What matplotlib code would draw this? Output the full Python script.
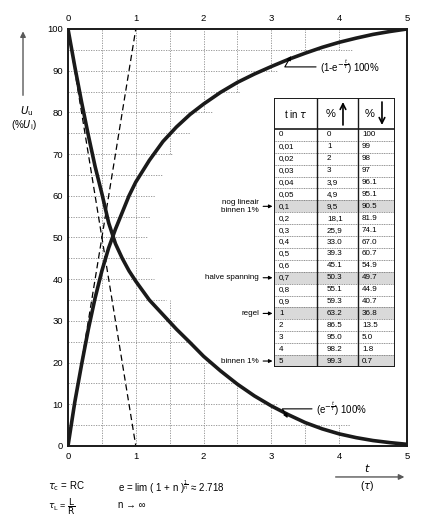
import numpy as np
import matplotlib.pyplot as plt

plt.rcParams['font.family'] = ['Liberation Sans', 'DejaVu Sans']

# curves: t in tau, U in % of U_i
t_up = [0, 0.1, 0.2, 0.3, 0.4, 0.5, 0.6, 0.7, 0.8, 0.9, 1.0, 1.2, 1.4, 1.6, 1.8, 2.0,
        2.25, 2.5, 2.75, 3.0, 3.25, 3.5, 3.75, 4.0, 4.25, 4.5, 4.75, 5.0]
u_up = [0, 10.5, 19.5, 28, 35.5, 42, 47.5, 52, 56, 60, 63.3, 68.5, 73, 76.5, 79.5, 82,
        84.8, 87.2, 89.2, 91, 92.7, 94.2, 95.6, 96.8, 97.8, 98.7, 99.4, 100]
t_down = [0, 0.1, 0.2, 0.3, 0.4, 0.5, 0.6, 0.7, 0.8, 0.9, 1.0, 1.2, 1.4, 1.6, 1.8, 2.0,
          2.25, 2.5, 2.75, 3.0, 3.25, 3.5, 3.75, 4.0, 4.25, 4.5, 4.75, 5.0]
u_down = [100, 91, 82.5, 74.5, 67, 60.5, 53.5, 48.5, 45, 42, 39.5, 35, 31.5, 28, 24.8, 21.5,
          18, 14.8, 12, 9.6, 7.5, 5.6, 4.1, 2.9, 2, 1.3, 0.8, 0.4]

# tangent lines at t = 0
tan_t = [0, 1]
tan_up = [0, 100]
tan_down = [100, 0]

# partial grid: horizontal lines stop just past the curves
hgrid_u = [5, 10, 15, 20, 25, 30, 35, 40, 45, 50, 55, 60, 65, 70, 75, 80, 85, 90, 95]
hgrid_end = [4.16, 3.08, 2.5, 2.1, 1.85, 1.6, 1.45, 1.27, 1.22, 1.18, 1.21, 1.28, 1.38, 1.55, 1.8, 2.12, 2.54, 3.1, 4.19]
vgrid_t = [0.5, 1.0, 1.5, 2.0, 2.5, 3.0, 3.5, 4.0]
vgrid_low = [100, 100, 35, 20, 15, 10, 5, 5]
vgrid_high = [0, 0, 70, 80, 85, 90, 95, 95]

xticks = [0, 1, 2, 3, 4, 5]
yticks = [0, 10, 20, 30, 40, 50, 60, 70, 80, 90, 100]

# table values
tab_t = ["0", "0,01", "0,02", "0,03", "0,04", "0,05", "0,1", "0,2", "0,3", "0,4",
         "0,5", "0,6", "0,7", "0,8", "0,9", "1", "2", "3", "4", "5"]
tab_up = ["0", "1", "2", "3", "3,9", "4,9", "9,5", "18,1", "25,9", "33.0",
          "39.3", "45.1", "50.3", "55.1", "59.3", "63.2", "86.5", "95.0", "98.2", "99.3"]
tab_down = ["100", "99", "98", "97", "96.1", "95.1", "90.5", "81.9", "74.1", "67.0",
            "60.7", "54.9", "49.7", "44.9", "40.7", "36.8", "13.5", "5.0", "1.8", "0.7"]
tab_notes = {"0,1": "nog lineair\nbinnen 1%", "0,7": "halve spanning", "1": "regel", "5": "binnen 1%"}

fig = plt.figure(figsize=(4.45, 5.19), dpi=100)
ax = fig.add_axes([0.1528, 0.1407, 0.7618, 0.8035])

grid_style = dict(color='0.55', lw=0.6, ls=(0, (1.5, 1.5)), zorder=1)
for u, end in zip(hgrid_u, hgrid_end):
    ax.plot([0, end], [u, u], **grid_style)
for t, lo, hi in zip(vgrid_t, vgrid_low, vgrid_high):
    ax.plot([t, t], [0, lo], **grid_style)
    if hi > 0:
        ax.plot([t, t], [hi, 100], **grid_style)

ax.plot(tan_t, tan_up, color='k', lw=0.9, ls=(0, (5, 3)), zorder=2)
ax.plot(tan_t, tan_down, color='k', lw=0.9, ls=(0, (5, 3)), zorder=2)
ax.plot(t_up, u_up, color='0.1', lw=2.6, solid_joinstyle='round', zorder=3)
ax.plot(t_down, u_down, color='0.1', lw=2.6, solid_joinstyle='round', zorder=3)

ax.set_xlim(0, 5)
ax.set_ylim(0, 100)
ax.set_xticks(xticks)
ax.set_yticks(yticks)
ax.tick_params(top=True, labeltop=True, length=0, labelsize=6.8)
ax.tick_params(axis='x', pad=4)
ax.tick_params(axis='y', pad=3.5)
for s in ax.spines.values():
    s.set_linewidth(1.4)
    s.set_color('0.1')

# curve labels
ax.annotate(r"(1-e$^{-\frac{t}{\tau}}$) 100%", xy=(3.29, 93.5), xytext=(3.72, 90.9),
            fontsize=7, va='center', ha='left',
            arrowprops=dict(arrowstyle='-|>', lw=0.8, color='k', mutation_scale=6,
                            connectionstyle='angle,angleA=0,angleB=60,rad=0', shrinkA=1, shrinkB=0))
ax.annotate(r"(e$^{-\frac{t}{\tau}}$) 100%", xy=(3.24, 6.7), xytext=(3.66, 8.9),
            fontsize=7, va='center', ha='left',
            arrowprops=dict(arrowstyle='-|>', lw=0.8, color='k', mutation_scale=6,
                            connectionstyle='angle,angleA=0,angleB=-60,rad=0', shrinkA=1, shrinkB=0))

# table drawn in its own axes, units are pixels
tab = fig.add_axes([0.6157, 0.2929, 0.2719, 0.5183])
tab.set_xlim(0, 121)
tab.set_ylim(269, 0)
tab.axis('off')
cols = [0, 43, 84, 121]
head_h = 31
row_h = (269 - head_h) / len(tab_t)

tab.add_patch(plt.Rectangle((0, 0), 121, 269, facecolor='white', edgecolor='none', zorder=0))
for i, t in enumerate(tab_t):
    y0 = head_h + i * row_h
    yc = y0 + row_h / 2
    if t in tab_notes:
        tab.add_patch(plt.Rectangle((0, y0), 121, row_h, facecolor='0.85', edgecolor='none', zorder=1))
        tab.annotate(tab_notes[t], xy=(-1.5, yc), xytext=(-15, yc), fontsize=5.8, ha='right',
                     va='center', multialignment='right', annotation_clip=False,
                     arrowprops=dict(arrowstyle='-|>', lw=0.8, color='k', mutation_scale=5,
                                     shrinkA=1, shrinkB=0))
    if i > 0:
        tab.plot([0, 121], [y0, y0], color='0.4', lw=0.5, ls=(0, (1.5, 1)), zorder=2)
    tab.text(cols[0] + 5, yc, t, fontsize=5.8, va='center', ha='left', zorder=3)
    tab.text(cols[1] + 10, yc, tab_up[i], fontsize=5.8, va='center', ha='left', zorder=3)
    tab.text(cols[2] + 4, yc, tab_down[i], fontsize=5.8, va='center', ha='left', zorder=3)

tab.plot([0, 121], [head_h, head_h], color='0.1', lw=1.2, zorder=4)
for c in cols[1:3]:
    tab.plot([c, c], [0, 269], color='0.1', lw=1.0, zorder=4)
tab.add_patch(plt.Rectangle((0, 0), 121, 269, facecolor='none', edgecolor='0.1', lw=1.4, zorder=5))

tab.text(21.5, 16, r"t in $\tau$", fontsize=7, ha='center', va='center')
tab.text(57, 16, "%", fontsize=8, ha='center', va='center')
tab.annotate("", xy=(69, 4), xytext=(69, 27),
             arrowprops=dict(arrowstyle='->', lw=1.2, color='k', mutation_scale=10, shrinkA=0, shrinkB=0))
tab.text(96, 16, "%", fontsize=8, ha='center', va='center')
tab.annotate("", xy=(108, 27), xytext=(108, 4),
             arrowprops=dict(arrowstyle='->', lw=1.2, color='k', mutation_scale=10, shrinkA=0, shrinkB=0))

# axis labels with arrows
fig.patches.append(plt.matplotlib.patches.FancyArrowPatch(
    (0.0517, 0.811), (0.0517, 0.945), transform=fig.transFigure,
    arrowstyle='-|>', mutation_scale=8, lw=1.0, color='0.35'))
fig.text(0.0607, 0.786, r"$U_{\rm u}$", fontsize=7.5, ha='center', va='center')
fig.text(0.0540, 0.760, r"(%$U_{\rm i}$)", fontsize=7, ha='center', va='center')

fig.patches.append(plt.matplotlib.patches.FancyArrowPatch(
    (0.748, 0.081), (0.915, 0.081), transform=fig.transFigure,
    arrowstyle='-|>', mutation_scale=8, lw=1.0, color='0.35'))
fig.text(0.8247, 0.099, r"$t$", fontsize=8, ha='center', va='center')
fig.text(0.8247, 0.063, r"($\tau$)", fontsize=7.5, ha='center', va='center')

# formulas under the chart
fig.text(0.108, 0.064, r"$\tau_{\rm c}$ = RC", fontsize=7, ha='left', va='center')
fig.text(0.108, 0.024, r"$\tau_{\rm L}$ = $\dfrac{\rm L}{\rm R}$", fontsize=6.5, ha='left', va='center')
fig.text(0.265, 0.062, r"e = lim ( 1 + n )$^{\frac{1}{n}}$ ≈ 2.718", fontsize=7, ha='left', va='center')
fig.text(0.265, 0.027, "n → ∞", fontsize=7, ha='left', va='center')

fig.savefig("out.png", dpi=100)
